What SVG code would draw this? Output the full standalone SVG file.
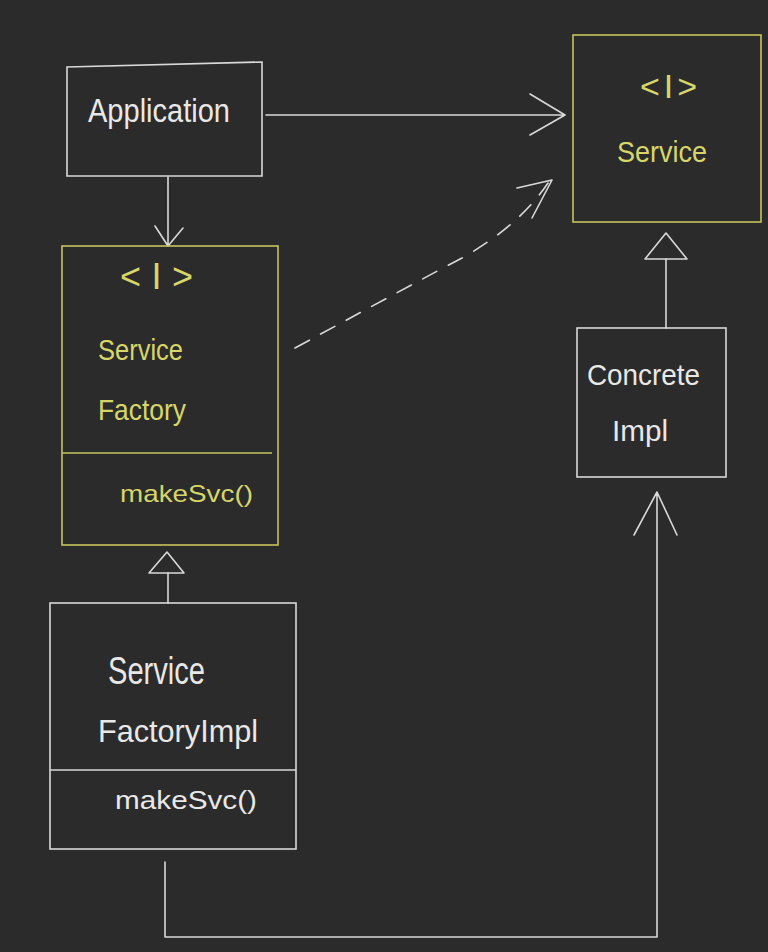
<svg xmlns="http://www.w3.org/2000/svg" width="768" height="952" viewBox="0 0 768 952">
<style>
.bg{fill:#2b2b2b}
.bw{fill:none;stroke:#d9d9d9;stroke-width:1.6}
.by{fill:none;stroke:#c4c45c;stroke-width:1.6}
.ln{fill:none;stroke:#d9d9d9;stroke-width:1.6;stroke-linecap:round;stroke-linejoin:round}
.dash{stroke-dasharray:16 13}
.tw{fill:#e8e8e8;font-family:"Liberation Sans","DejaVu Sans",sans-serif;font-weight:normal}
.ty{fill:#d6d66a;font-family:"Liberation Sans","DejaVu Sans",sans-serif;font-weight:normal}
</style>
<rect class="bg" x="0" y="0" width="768" height="952"/>
<g id="connectors">
  <path class="ln" d="M266 115 L565 115 M530 94 L565 115 L530 135"/>
  <path class="ln" d="M168 177 L168 246 M155 226 L168 246 L183 228"/>
  <path class="ln dash" d="M295 348 Q420 280 462 258 Q520 225 548 183"/>
  <path class="ln" d="M517 188 L552 180 L532 218"/>
  <path class="ln" d="M666 259 L666 328"/>
  <polygon class="ln" points="666,233 645,259 687,259"/>
  <path class="ln" d="M168 573 L168 603"/>
  <polygon class="ln" points="167,552 149,573 184,573"/>
  <path class="ln" d="M165 862 L165 937 L657 937 L657 492 M634 535 L657 492 L677 535"/>
</g>
<g id="application">
  <path class="bw" d="M67 67 L262 62 L262 176 L67 176 Z"/>
  <text class="tw" x="88" y="122" font-size="34" textLength="142" lengthAdjust="spacingAndGlyphs">Application</text>
</g>
<g id="service">
  <rect class="by" x="573" y="35" width="188" height="187"/>
  <text class="ty" x="640" y="98" font-size="34" textLength="57" lengthAdjust="spacing">&lt;I&gt;</text>
  <text class="ty" x="617" y="162" font-size="30" textLength="90" lengthAdjust="spacingAndGlyphs">Service</text>
</g>
<g id="service-factory">
  <rect class="by" x="62" y="246" width="216" height="299"/>
  <path class="by" d="M62 453 L272 453"/>
  <text class="ty" x="120" y="289" font-size="36" textLength="73" lengthAdjust="spacing">&lt;I&gt;</text>
  <text class="ty" x="98" y="360" font-size="30" textLength="85" lengthAdjust="spacingAndGlyphs">Service</text>
  <text class="ty" x="98" y="420" font-size="30" textLength="88" lengthAdjust="spacingAndGlyphs">Factory</text>
  <text class="ty" x="120" y="502" font-size="24" textLength="133" lengthAdjust="spacingAndGlyphs">makeSvc()</text>
</g>
<g id="service-factory-impl">
  <rect class="bw" x="50" y="603" width="246" height="246"/>
  <path class="bw" d="M50 770 L296 770"/>
  <text class="tw" x="108" y="684" font-size="38" textLength="97" lengthAdjust="spacingAndGlyphs">Service</text>
  <text class="tw" x="98" y="742" font-size="32" textLength="160" lengthAdjust="spacingAndGlyphs">FactoryImpl</text>
  <text class="tw" x="115" y="809" font-size="26" textLength="142" lengthAdjust="spacingAndGlyphs">makeSvc()</text>
</g>
<g id="concrete-impl">
  <rect class="bw" x="577" y="328" width="149" height="149"/>
  <text class="tw" x="587" y="385" font-size="30" textLength="113" lengthAdjust="spacingAndGlyphs">Concrete</text>
  <text class="tw" x="612" y="441" font-size="30" textLength="56" lengthAdjust="spacingAndGlyphs">Impl</text>
</g>
</svg>
